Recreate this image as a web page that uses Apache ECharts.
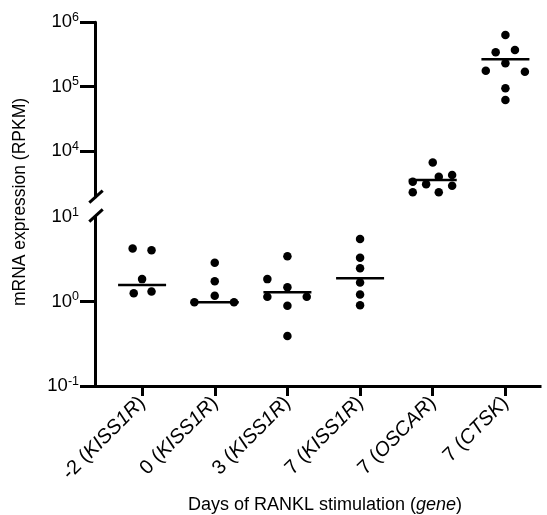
<!DOCTYPE html>
<html>
<head>
<meta charset="utf-8">
<script src="https://cdn.jsdelivr.net/npm/echarts@6/dist/echarts.min.js"></script>
<style>html,body{margin:0;padding:0;background:#fff}#c{width:547px;height:515px}</style>
</head>
<body>
<div id="c"></div>
<script>
// ---- data ----
const days = ['-2', '0', '3', '7', '7', '7'];
const genes = ['KISS1R', 'KISS1R', 'KISS1R', 'KISS1R', 'OSCAR', 'CTSK'];

const g1Values = [4.24, 4.04, 1.84, 1.25, 1.31];
const g1Offsets = [-0.13, 0.13, 0, -0.115, 0.13];
const g2Values = [2.88, 1.74, 1.17, 0.98, 0.98];
const g2Offsets = [0, 0, 0, -0.28, 0.265];
const g3Values = [3.44, 1.84, 1.47, 1.14, 1.14, 0.89, 0.39];
const g3Offsets = [0, -0.276, 0, -0.276, 0.266, 0, 0];
const g4Values = [5.5, 3.3, 2.47, 1.68, 1.21, 0.90];
const g4Offsets = [0, 0, 0, 0, 0, 0];
const g5Values = [6590, 3290, 3000, 3940, 4190, 2850, 2250, 2250];
const g5Offsets = [0, -0.275, -0.091, 0.083, 0.267, 0.267, -0.275, 0.083];
const g6Values = [634000, 341000, 370000, 230000, 176000, 170000, 93800, 61600];
const g6Offsets = [0, -0.134, 0.131, 0, -0.27, 0.268, 0, 0];

const medians = [1.57, 0.98, 1.29, 1.89, 3500, 265000];

const lowerTicks = [-1, 0];      // log10 exponents with tick marks (lower segment)
const lowerLabels = [-1, 0, 1];  // log10 exponents with labels (lower segment)
const upperTicks = [4, 5, 6];
const upperLabels = [4, 5, 6];

// ---- build ----
const FONT = '"Liberation Sans", Arial, Helvetica, sans-serif';
const groups = [
  [g1Values, g1Offsets], [g2Values, g2Offsets], [g3Values, g3Offsets],
  [g4Values, g4Offsets], [g5Values, g5Offsets], [g6Values, g6Offsets]
];
const lowerPts = [], upperPts = [], lowerMed = [], upperMed = [];
groups.forEach(function (g, i) {
  const target = i < 4 ? lowerPts : upperPts;
  g[0].forEach(function (v, k) { target.push([i + g[1][k], Math.log10(v)]); });
  (i < 4 ? lowerMed : upperMed).push([i, Math.log10(medians[i])]);
});
const catIdx = days.map(function (d, i) { return i; });

const xMin = -0.648, xMax = 5.476;
const supRich = {
  b: { fontSize: 18.5, fontFamily: FONT, color: '#000', lineHeight: 22 },
  s: { fontSize: 12.5, fontFamily: FONT, color: '#000', verticalAlign: 'top', lineHeight: 22 }
};
function powLabel(v) { return '{b|10}{s|' + Math.round(v) + '}'; }

const chart = echarts.init(document.getElementById('c'), null, { renderer: 'canvas' });
chart.setOption({
  backgroundColor: '#fff',
  animation: false,
  grid: [
    { left: 95, right: 7, top: 22.3, bottom: 318 },
    { left: 95, right: 7, top: 217, bottom: 126.7 }
  ],
  xAxis: [
    { type: 'value', gridIndex: 0, min: xMin, max: xMax, show: false },
    {
      type: 'value', gridIndex: 1, min: xMin, max: xMax,
      axisLine: { show: true, onZero: false, lineStyle: { color: '#000', width: 3, cap: 'square' } },
      axisTick: { show: true, customValues: catIdx, length: 10, lineStyle: { color: '#000', width: 3 } },
      splitLine: { show: false },
      axisLabel: {
        customValues: catIdx, rotate: 45, margin: 14, color: '#000',
        fontSize: 20, fontFamily: FONT,
        formatter: function (v) {
          const i = Math.round(v);
          return days[i] + ' ({i|' + genes[i] + '})';
        },
        rich: { i: { fontStyle: 'italic', fontSize: 20, fontFamily: FONT, color: '#000' } }
      },
      name: 'Days of RANKL stimulation ({i|gene})',
      nameLocation: 'middle', nameGap: 110,
      nameTextStyle: {
        fontSize: 18, fontFamily: FONT, color: '#000', padding: [0, 0, 0, 15],
        rich: { i: { fontStyle: 'italic', fontSize: 18, fontFamily: FONT, color: '#000' } }
      }
    }
  ],
  yAxis: [
    {
      type: 'value', gridIndex: 0, min: 3.28, max: 6,
      axisLine: { show: true, onZero: false, lineStyle: { color: '#000', width: 3 } },
      axisTick: { show: true, customValues: upperTicks, length: 15, lineStyle: { color: '#000', width: 3 } },
      splitLine: { show: false },
      axisLabel: { customValues: upperLabels, margin: 16, formatter: powLabel, rich: supRich }
    },
    {
      type: 'value', gridIndex: 1, min: -1, max: 1,
      axisLine: { show: true, onZero: false, lineStyle: { color: '#000', width: 3 } },
      axisTick: { show: true, customValues: lowerTicks, length: 15, lineStyle: { color: '#000', width: 3 } },
      splitLine: { show: false },
      axisLabel: { customValues: lowerLabels, margin: 16, formatter: powLabel, rich: supRich }
    }
  ],
  series: [
    { type: 'scatter', xAxisIndex: 1, yAxisIndex: 1, data: lowerMed, symbol: 'rect', symbolSize: [48, 2.5], itemStyle: { color: '#000', opacity: 1 }, z: 2, silent: true },
    { type: 'scatter', xAxisIndex: 0, yAxisIndex: 0, data: upperMed, symbol: 'rect', symbolSize: [48, 2.5], itemStyle: { color: '#000', opacity: 1 }, z: 2, silent: true },
    { type: 'scatter', xAxisIndex: 1, yAxisIndex: 1, data: lowerPts, symbol: 'circle', symbolSize: 8.5, itemStyle: { color: '#000', opacity: 1 }, z: 3 },
    { type: 'scatter', xAxisIndex: 0, yAxisIndex: 0, data: upperPts, symbol: 'circle', symbolSize: 8.5, itemStyle: { color: '#000', opacity: 1 }, z: 3 }
  ],
  graphic: [
    { type: 'line', shape: { x1: 89.3, y1: 202.7, x2: 102.7, y2: 190.7 }, style: { stroke: '#000', lineWidth: 3 }, z: 10 },
    { type: 'line', shape: { x1: 89.3, y1: 221.7, x2: 102.7, y2: 209.3 }, style: { stroke: '#000', lineWidth: 3 }, z: 10 },
    { type: 'rect', shape: { x: 92, y: 198.5, width: 6, height: 16 }, style: { fill: '#fff' }, z: 9 },
    {
      type: 'text', x: 20, y: 202, rotation: Math.PI / 2,
      style: { text: 'mRNA expression (RPKM)', font: '17.5px ' + FONT, fill: '#000', textAlign: 'center', textVerticalAlign: 'middle' }
    }
  ]
});
</script>
</body>
</html>
